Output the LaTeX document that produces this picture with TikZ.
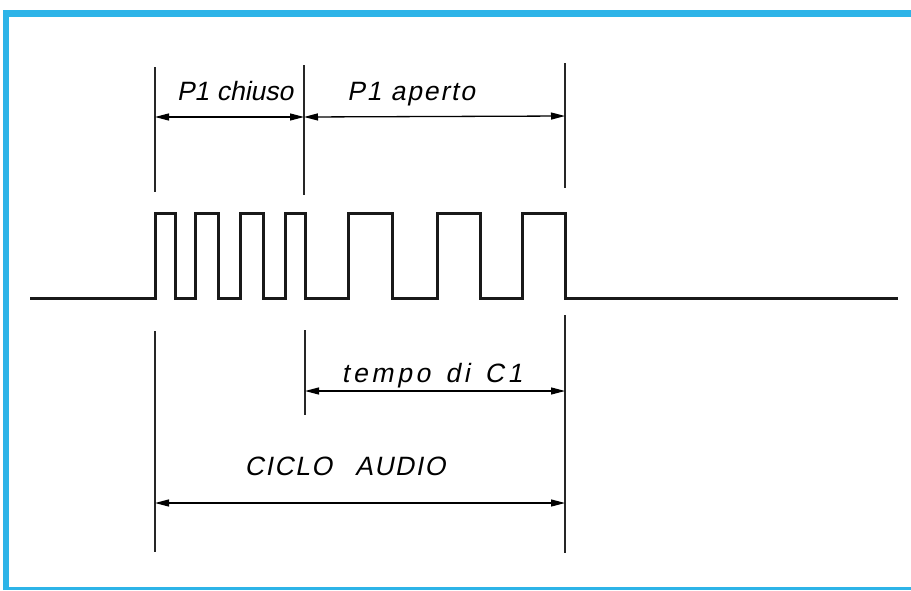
\documentclass[tikz,border=0pt]{standalone}
\usepackage{fontspec}
\usetikzlibrary{arrows.meta}
\newfontfamily\lab{Liberation Sans}[FakeSlant=0.2]
\definecolor{frameblue}{RGB}{45,180,232}
\tikzset{
  dim/.style={line width=1.3pt,{Triangle[length=14pt,width=7pt]}-{Triangle[length=14pt,width=7pt]}},
  guide/.style={line width=1.6pt,black!85},
  wave/.style={line width=3pt,line join=miter,black!90},
  txt/.style={anchor=base,font=\lab\fontsize{26.5}{30}\selectfont,inner sep=0pt}
}
\begin{document}
\begin{tikzpicture}[x=1pt,y=-1pt]
\useasboundingbox (0,0) rectangle (911,590);
\fill[white] (0,0) rectangle (911,590);
% frame
\fill[frameblue] (3,10) rectangle (911,17);
\fill[frameblue] (3,10) rectangle (9,590);
\fill[frameblue] (3,587) rectangle (911,590);
% guide lines
\draw[guide] (155,67) -- (155,192);
\draw[guide] (304,65) -- (304,195);
\draw[guide] (565,63) -- (565,188);
\draw[guide] (155,331) -- (155,552);
\draw[guide] (305,330) -- (305,415);
\draw[guide] (565,315) -- (565,553);
% coordinates for dimensions
\coordinate (a1) at (155,117);
\coordinate (a2) at (304,117);
\coordinate (a3) at (565,116);
\coordinate (t1) at (305,391);
\coordinate (t2) at (565,391);
\coordinate (c1) at (155,503);
\coordinate (c2) at (565,503);
\draw[dim] (a1) -- (a2);
\draw[dim] (a2) -- (a3);
\draw[dim] (t1) -- (t2);
\draw[dim] (c1) -- (c2);
% labels
\node[txt] (lchiuso) at (235,100) {P1 chiuso};
\node[txt] (laperto) at (411,100) {\addfontfeature{LetterSpace=7}P1 aperto};
\node[txt] (ltempo) at (432,382) {\addfontfeature{LetterSpace=14}tempo\hspace{4pt} di\hspace{4pt} C1};
\node[txt] (lciclo) at (345,475) {\addfontfeature{LetterSpace=6}CICLO\hspace{14pt} AUDIO};
% waveform
\def\hi{213}\def\lo{298}
\draw[wave] (30,\lo) -- (155,\lo) -- (155,\hi) -- (175,\hi) -- (175,\lo)
  -- (195,\lo) -- (195,\hi) -- (218,\hi) -- (218,\lo)
  -- (240,\lo) -- (240,\hi) -- (263,\hi) -- (263,\lo)
  -- (285,\lo) -- (285,\hi) -- (305,\hi) -- (305,\lo)
  -- (348,\lo) -- (348,\hi) -- (392,\hi) -- (392,\lo)
  -- (437,\lo) -- (437,\hi) -- (480,\hi) -- (480,\lo)
  -- (522,\lo) -- (522,\hi) -- (565,\hi) -- (565,\lo) -- (898,\lo);
\end{tikzpicture}
\end{document}
